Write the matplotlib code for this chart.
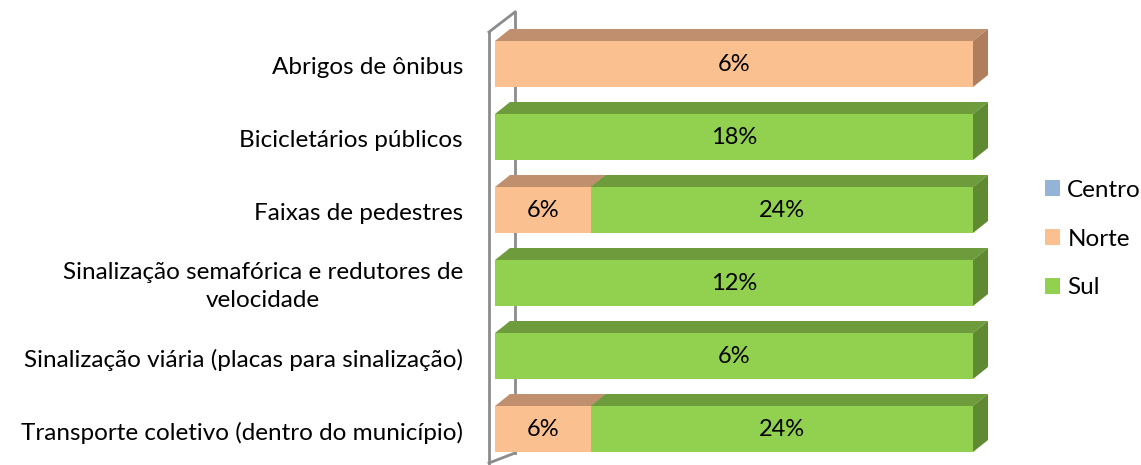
import numpy as np
import matplotlib
matplotlib.use("Agg")
import matplotlib.pyplot as plt
from matplotlib.patches import Polygon, Patch

# data
categories = [
    "Abrigos de ônibus",
    "Bicicletários públicos",
    "Faixas de pedestres",
    "Sinalização semafórica e redutores de\nvelocidade",
    "Sinalização viária (placas para sinalização)",
    "Transporte coletivo (dentro do município)",
]
series = ["Centro", "Norte", "Sul"]
centro = [0, 0, 0, 0, 0, 0]
norte = [6, 0, 6, 0, 0, 6]
sul = [0, 18, 24, 12, 6, 24]

front_cols = {"Centro": "#95B3D7", "Norte": "#FAC090", "Sul": "#92D050"}
top_cols = {"Centro": "#7791B0", "Norte": "#BF8F6E", "Sul": "#6E9B3C"}
side_cols = {"Centro": "#6A84A3", "Norte": "#B07E5C", "Sul": "#5F8A32"}

plt.rcParams['font.family'] = ['Lato', 'DejaVu Sans']

fig = plt.figure(figsize=(11.41, 4.65), dpi=100)
ax = fig.add_axes([0, 0, 1, 1])
ax.axis('off')

# pixel mapping: x=0 -> 495px, x=1 -> 973px ; row i centre at 64 + 73*i px
px_x = 478.0
px_y = 73.0
ax.set_xlim(-495 / px_x, (1141 - 495) / px_x)
ax.set_ylim((465 - 64) / px_y, -64 / px_y)

h = 46 / px_y
dx = 15 / px_x
dy = 12 / px_y

# wall (left side panel)
wx0 = -6 / px_x
wx1 = 20 / px_x
wtop0 = (32 - 64) / px_y
wtop1 = (12 - 64) / px_y
wbot0 = (465 - 64) / px_y
wbot1 = (453 - 64) / px_y
ax.plot([wx1, wx1], [wtop1, wbot1], color="#8C8C8C", lw=2, zorder=1)
ax.plot([wx0, wx1], [wtop0, wtop1], color="#8C8C8C", lw=2, zorder=1)
ax.plot([wx0, wx0], [wtop0, wbot0 + 0.1], color="#8C8C8C", lw=2, zorder=1)
ax.plot([wx0, wx1], [(463 - 64) / px_y, wbot1], color="#8C8C8C", lw=2, zorder=1)

vals = {"Centro": centro, "Norte": norte, "Sul": sul}
for i in range(len(categories)):
    total = sum(vals[s][i] for s in series)
    left = 0.0
    top = i - h / 2
    bot = i + h / 2
    for s in series:
        v = vals[s][i]
        if v == 0:
            continue
        w = v / total
        r = left + w
        ax.add_patch(Polygon([(left, top), (r, top), (r + dx, top - dy), (left + dx, top - dy)],
                             closed=True, fc=top_cols[s], ec='none', zorder=3))
        ax.add_patch(Polygon([(r, top), (r + dx, top - dy), (r + dx, bot - dy), (r, bot)],
                             closed=True, fc=side_cols[s], ec='none', zorder=3))
        ax.add_patch(Polygon([(left, top), (r, top), (r, bot), (left, bot)],
                             closed=True, fc=front_cols[s], ec='none', zorder=4))
        ax.text(left + w / 2, i, f"{v}%", ha='center', va='center', fontsize=17, zorder=5)
        left = r
    ax.text(-32 / px_x, i + 0.05, categories[i], ha='right', va='center', fontsize=17.5,
            multialignment='center', linespacing=1.45)

handles = [Patch(fc=front_cols[s], ec='none') for s in series]
fig.legend(handles, series, loc='center left', bbox_to_anchor=(1045 / 1141, 1 - 239 / 465),
           frameon=False, fontsize=17.5, handlelength=0.62, handleheight=0.62,
           handletextpad=0.3, labelspacing=1.15, borderpad=0, borderaxespad=0)

fig.savefig("out.png", dpi=100)
